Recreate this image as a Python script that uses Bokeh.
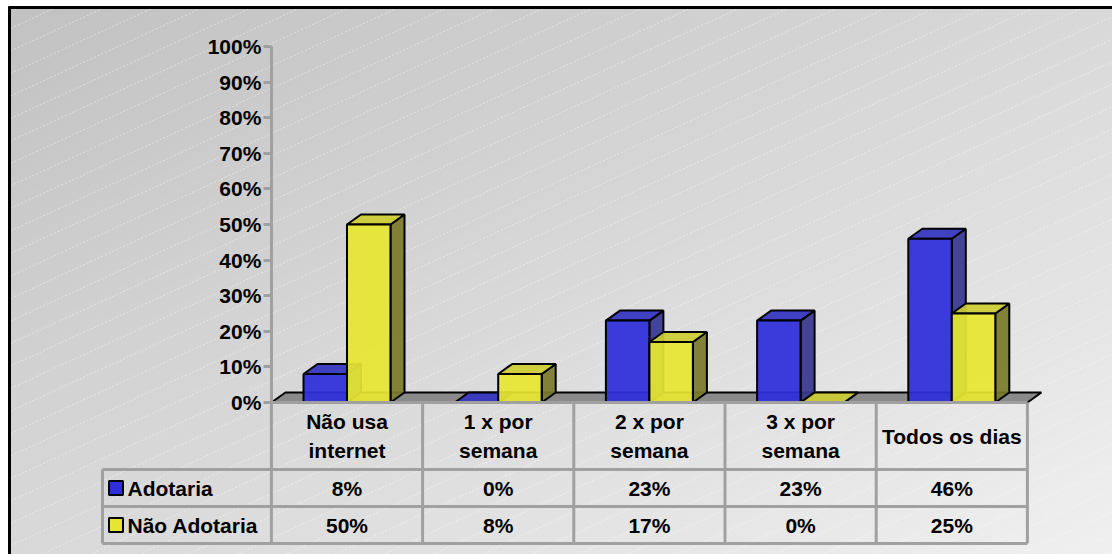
import numpy as np
from bokeh.plotting import figure
from bokeh.models import Range1d, LinearAxis, FixedTicker, NumeralTickFormatter
from bokeh.core.properties import value
from bokeh.embed import file_html
from bokeh.resources import INLINE

# ---------------- data ----------------
categories = ["Não usa\ninternet", "1 x por\nsemana", "2 x por\nsemana", "3 x por\nsemana", "Todos os dias"]
series_names = ["Adotaria", "Não Adotaria"]
adotaria = [0.08, 0.00, 0.23, 0.23, 0.46]
nao_adotaria = [0.50, 0.08, 0.17, 0.00, 0.25]
adotaria_labels = ["8%", "0%", "23%", "23%", "46%"]
nao_adotaria_labels = ["50%", "8%", "17%", "0%", "25%"]
y_ticks = [0.0, 0.1, 0.2, 0.3, 0.4, 0.5, 0.6, 0.7, 0.8, 0.9, 1.0]

# ---------------- layout constants ----------------
W, H = 1112, 554
PITCH = 151.2    # px per category
C0 = 346.5       # px of first category centre
Y0 = 402.0       # px (from top) of 0%
UNIT = 356.0     # px per 100%
FONT = value("Liberation Sans")
FS = "21px"


def dx_(px):
    return (px - C0) / PITCH


def dy_(py):
    return (Y0 - py) / UNIT


DDX = 14.0 / PITCH      # depth offset (x)
DDY = 10.0 / UNIT       # depth offset (y)
BW = 43.5 / PITCH       # bar width

p = figure(width=W, height=H,
           x_range=Range1d(dx_(0), dx_(W)), y_range=Range1d(dy_(H), dy_(0)),
           output_backend="svg", toolbar_location=None,
           x_axis_type=None, y_axis_type=None, min_border=0,
           background_fill_color="white", border_fill_color="white",
           outline_line_color=None)
p.min_border_left = p.min_border_right = p.min_border_top = p.min_border_bottom = 0
for g in p.grid:
    g.visible = False

# ---------------- background gradient ----------------
gw, gh = 290, 145
xn = np.linspace(0, 1.04, gw)[None, :]
yn = np.linspace(1.08, 0, gh)[:, None]
gval = np.clip(194 + 46 * (xn + yn) / 2, 0, 255).astype(np.uint8)
img = np.empty((gh, gw), dtype=np.uint32)
view = img.view(dtype=np.uint8).reshape((gh, gw, 4))
view[..., 0] = gval
view[..., 1] = gval
view[..., 2] = gval
view[..., 3] = 255
p.image_rgba(image=[img], x=dx_(10), y=dy_(H + 40), dw=dx_(W + 40) - dx_(10), dh=dy_(8) - dy_(H + 40))

# diagonal hatch lines
s = 0.46
hx, hy = [], []
for k in range(0, 60):
    b = 5.5 + 22.5 * k
    x_lo = max(10.0, 10 + (b - H) / s)
    x_hi = min(float(W), 10 + (b - 8) / s)
    if x_lo < x_hi:
        hx.append([dx_(x_lo), dx_(x_hi)])
        hy.append([dy_(b - s * (x_lo - 10)), dy_(b - s * (x_hi - 10))])
p.multi_line(hx, hy, line_color="white", line_alpha=0.45, line_width=1, line_dash="2 2")

# chart border (top / left)
p.segment(x0=[dx_(8), dx_(9)], y0=[dy_(7), dy_(6)], x1=[dx_(W), dx_(9)], y1=[dy_(7), dy_(H)],
          line_color="black", line_width=3)

# ---------------- floor ----------------
n = len(categories)
fl_x = [-0.5, n - 0.5, n - 0.5 + DDX, -0.5 + DDX]
fl_y = [0, 0, DDY, DDY]
p.patch(fl_x, fl_y, fill_color="#8a8a8a", line_color="black", line_width=2)

# ---------------- 3D bars ----------------
def bar_faces(vals, offset):
    fx, fy, sx, sy, tx, ty = [], [], [], [], [], []
    for i, v in enumerate(vals):
        x0 = i + offset
        x1 = x0 + BW
        fx.append([x0, x1, x1, x0]); fy.append([0, 0, v, v])
        sx.append([x1, x1 + DDX, x1 + DDX, x1]); sy.append([0, DDY, v + DDY, v])
        tx.append([x0, x1, x1 + DDX, x0 + DDX]); ty.append([v, v, v + DDY, v + DDY])
    return fx, fy, sx, sy, tx, ty


styles = [
    (adotaria, -BW, "#2e2edc", "#383890", "#3434c0"),
    (nao_adotaria, 0.0, "#e6e632", "#7a7a2a", "#cccc34"),
]
for vals, off, c_front, c_side, c_top in styles:
    fx, fy, sx, sy, tx, ty = bar_faces(vals, off)
    p.patches(sx, sy, fill_color=c_side, fill_alpha=0.93, line_color="black", line_width=2)
    p.patches(tx, ty, fill_color=c_top, fill_alpha=0.93, line_color="black", line_width=2)
    p.patches(fx, fy, fill_color=c_front, fill_alpha=0.93, line_color="black", line_width=2)

# ---------------- y axis ----------------
yaxis = LinearAxis(fixed_location=-0.5, bounds=(0, 1),
                   ticker=FixedTicker(ticks=y_ticks),
                   formatter=NumeralTickFormatter(format="0%"))
yaxis.axis_line_color = "#a0a0a0"
yaxis.axis_line_width = 3
yaxis.major_tick_line_color = "#a0a0a0"
yaxis.major_tick_line_width = 3
yaxis.major_tick_out = 8
yaxis.major_tick_in = 0
yaxis.minor_tick_line_color = None
yaxis.major_label_standoff = 2
yaxis.major_label_text_font = "Liberation Sans"
yaxis.major_label_text_font_style = "bold"
yaxis.major_label_text_font_size = FS
yaxis.major_label_text_color = "black"
p.add_layout(yaxis, "left")

# ---------------- data table ----------------
lx = dx_(102)
grid_col = "#a0a0a0"
# horizontal lines
p.segment(x0=[-0.5, lx, lx, lx], y0=[0, dy_(469), dy_(506), dy_(543)],
          x1=[n - 0.5] * 4, y1=[0, dy_(469), dy_(506), dy_(543)],
          line_color=grid_col, line_width=3)
# vertical lines
vx = [i - 0.5 for i in range(n + 1)]
p.segment(x0=vx, y0=[0] * len(vx), x1=vx, y1=[dy_(543)] * len(vx),
          line_color=grid_col, line_width=3)
p.segment(x0=[lx], y0=[dy_(469)], x1=[lx], y1=[dy_(543)], line_color=grid_col, line_width=3)

# header (category) labels
p.text(x=list(range(n)), y=[dy_(435.5)] * n, text=categories,
       text_font=FONT, text_font_style="bold", text_font_size=FS,
       text_align="center", text_baseline="middle", text_line_height=1.3, text_color="black")

# value rows
row_y = [dy_(487.5), dy_(524.5)]
for labels, yy in [(adotaria_labels, row_y[0]), (nao_adotaria_labels, row_y[1])]:
    p.text(x=list(range(n)), y=[yy] * n, text=labels,
           text_font=FONT, text_font_style="bold", text_font_size=FS,
           text_align="center", text_baseline="middle", text_color="black")

# legend keys + names
p.scatter(x=[dx_(115.5)] * 2, y=row_y, marker="square", size=14,
          fill_color=["#2e2edc", "#e6e632"], line_color="black", line_width=2)
p.text(x=[dx_(127)] * 2, y=row_y, text=series_names,
       text_font=FONT, text_font_style="bold", text_font_size=FS,
       text_align="left", text_baseline="middle", text_color="black")

open("out.html", "w").write(file_html(p, INLINE))
